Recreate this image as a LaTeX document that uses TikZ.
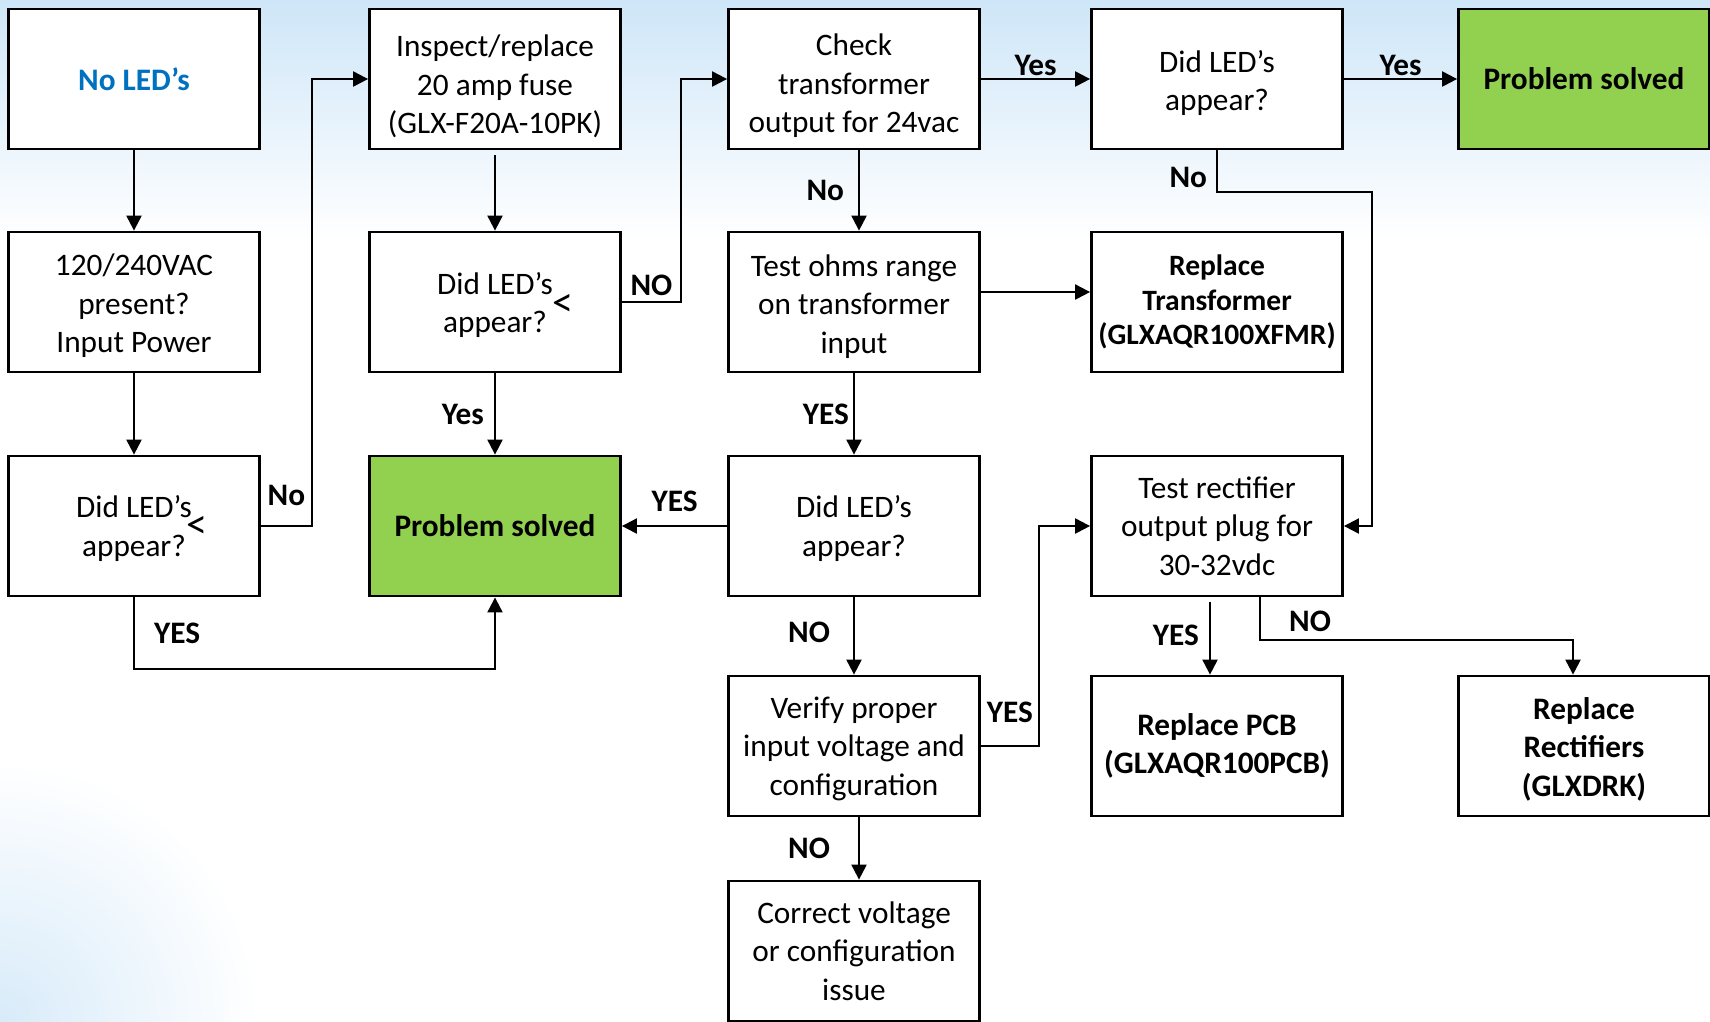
\documentclass[tikz,border=0pt]{standalone}
\usepackage{fontspec}
\setmainfont{Carlito}
\usepackage{tikz}
\usetikzlibrary{arrows.meta}
\usetikzlibrary{positioning}

\definecolor{solvedgreen}{RGB}{146,208,80}
\definecolor{ledblue}{RGB}{0,112,192}
\definecolor{skyblue}{RGB}{206,230,248}
\newcommand{\chartfont}{\fontsize{8.9}{10.95}\selectfont}
\newcommand{\topgap}[1]{\rule{0pt}{#1}}
\newcommand{\lowlt}[2]{\smash{\rlap{\kern#1\raisebox{#2}{\fontsize{12}{12}\selectfont<}}}}

\begin{document}
\begin{tikzpicture}[>={Triangle[length=0.15cm,width=0.15cm]}, line width=0.6pt,
		node distance=2.23cm, on grid, font=\chartfont,
		box/.style={draw, line width=0.8pt, fill=white, minimum width=2.51cm, minimum height=1.4cm, align=center, inner sep=1pt},
		boldbox/.style={box, font=\chartfont\bfseries},
		solved/.style={boldbox, fill=solvedgreen},
		lbl/.style={font=\chartfont\bfseries, inner sep=2pt}]
	% background
	\useasboundingbox (0,0) rectangle (17.1,-10.21);
	\fill[top color=skyblue, bottom color=white] (0,0) rectangle (17.1,-2.4);
	\begin{scope}
		\clip (0,0) rectangle (17.1,-10.21);
		\shade[inner color=skyblue!80, outer color=white] (0,-10.21) circle (2.6);
	\end{scope}

	\node[boldbox, text=ledblue] (no_led) at (1.34,-0.79) {No LED’s};
	\node[box] (input) [below=of no_led] {\topgap{8.5pt}120/240VAC\\present?\\Input Power};
	\node[box] (did_1) [below=2.24cm of input] {\topgap{7.7pt}Did LED’s\lowlt{-1.5pt}{-5.9pt}\\appear?};
	\node[box] (fuse) [right=3.61cm of no_led] {\topgap{10.6pt}Inspect/replace\\20 amp fuse\\(GLX-F20A-10PK)};
	\node[box] (did_2) [below=of fuse] {\topgap{8pt}Did LED’s\lowlt{0pt}{-6.3pt}\\appear?};
	\node[solved] (solved_1) [below=2.24cm of did_2] {Problem solved};
	\node[box] (check) [right=3.59cm of fuse] {\topgap{10.2pt}Check\\transformer\\output for 24vac};
	\node[box] (ohms) [below=of check] {\topgap{8.7pt}Test ohms range\\on transformer\\input};
	\node[box] (did_4) [below=2.24cm of ohms] {\topgap{7.7pt}Did LED’s\\appear?};
	\node[box] (verify) [below=2.2cm of did_4] {\topgap{7.5pt}Verify proper\\input voltage and\\configuration};
	\node[box] (correct) [below=2.05cm of verify] {Correct voltage\\or configuration\\issue};
	\node[box] (did_3) [right=3.63cm of check] {\topgap{8.4pt}Did LED’s\\appear?};
	\node[boldbox, font=\fontsize{8.4}{9.9}\selectfont\bfseries] (repl_xfmr) [below=of did_3] {Replace\\Transformer\\(GLXAQR100XFMR)};
	\node[box] (rect) [below=2.24cm of repl_xfmr] {Test rectifier\\output plug for\\30-32vdc};
	\node[boldbox] (repl_pcb) [below=2.2cm of rect] {Replace PCB\\(GLXAQR100PCB)};
	\node[solved] (solved_2) [right=3.67cm of did_3] {Problem solved};
	\node[boldbox] (repl_rect) [right=3.67cm of repl_pcb] {\topgap{8.1pt}Replace\\Rectifiers\\(GLXDRK)};

	\draw[->] (no_led) -- (input);
	\draw[->] (input) -- (did_1);
	\draw[->] (did_1.east) -- ++(0.51,0) node[lbl, midway, above=0.12cm] {No} |- (fuse.west);
	\draw[->] (did_1.south) -- ++(0,-0.72) node[lbl, midway, right=0.12cm] {YES} -| (solved_1.south);
	\draw[->] ([yshift=-0.05cm]fuse.south) -- (did_2);
	\draw[->] (did_2.east) -- ++(0.59,0) node[lbl, midway, above=-0.02cm] {NO} |- (check.west);
	\draw[->] (did_2) -- node[lbl, left=0.03cm] {Yes} (solved_1);
	\draw[->] (check) -- node[lbl, above=-0.05cm] {Yes} (did_3);
	\draw[->] (did_3) -- node[lbl, above=-0.05cm] {Yes} (solved_2);
	\draw[->] ([xshift=0.05cm]check.south) -- node[lbl, left=0.07cm] {No} ([xshift=0.05cm]ohms.north);
	\draw[->] ([yshift=0.1cm]ohms.east) -- ([yshift=0.1cm]repl_xfmr.west);
	\draw[->] (did_3.south) -- ++(0,-0.42) node[lbl, pos=0.65, left=0.02cm] {No} -- ++(1.55,0) |- (rect.east);
	\draw[->] (ohms) -- node[lbl, left=-0.03cm] {YES} (did_4);
	\draw[->] (did_4) -- node[lbl, above=0.06cm] {YES} (solved_1);
	\draw[->] (did_4) -- node[lbl, pos=0.45, left=0.16cm] {NO} (verify);
	\draw[->] (verify.east) -- ++(0.58,0) node[lbl, midway, above=0.15cm] {YES} |- (rect.west);
	\draw[->] ([xshift=0.05cm]verify.south) -- node[lbl, left=0.21cm] {NO} ([xshift=0.05cm]correct.north);
	\draw[->] ([xshift=-0.07cm,yshift=-0.05cm]rect.south) -- node[lbl, pos=0.45, left=0.03cm] {YES} ([xshift=-0.07cm]repl_pcb.north);
	\draw[->] ([xshift=0.43cm]rect.south) -- ++(0,-0.43) -| node[lbl, pos=0.08, above=0.01cm] {NO} ([xshift=-0.11cm]repl_rect.north);
\end{tikzpicture}
\end{document}
